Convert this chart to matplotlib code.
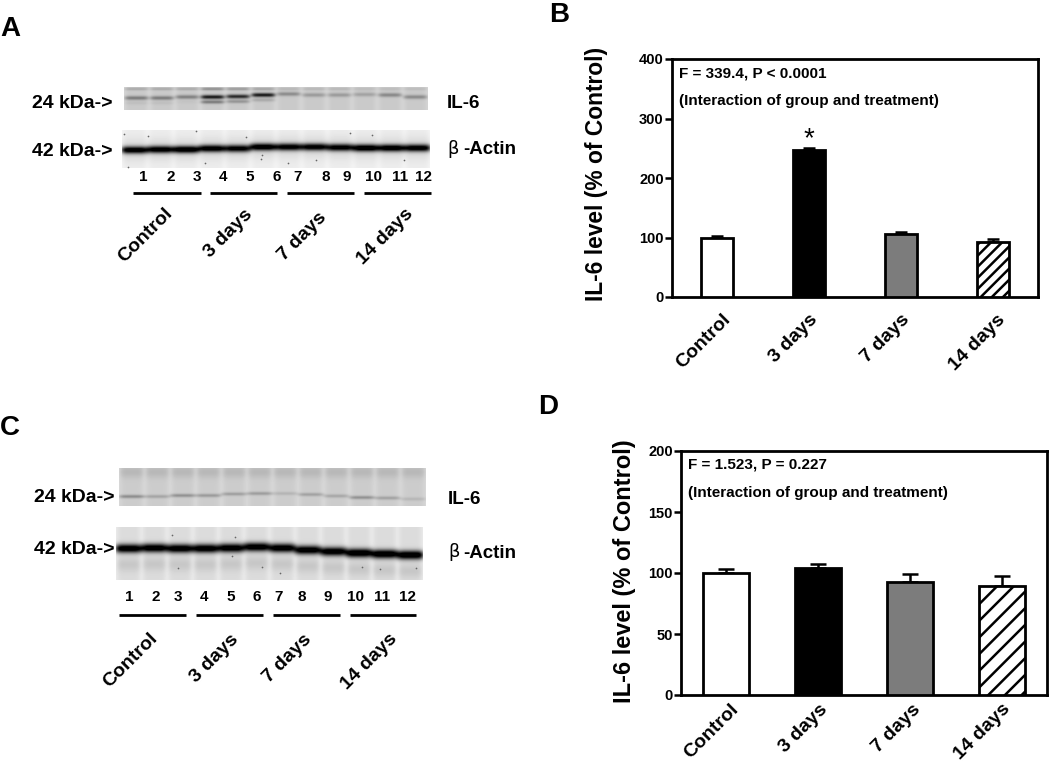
import numpy as np
import matplotlib

matplotlib.use("Agg")
import matplotlib.pyplot as plt
from matplotlib.transforms import ScaledTranslation

W, H = 1050, 762

plt.rcParams["font.family"] = ["Liberation Sans", "DejaVu Sans"]
plt.rcParams["font.weight"] = "bold"
plt.rcParams["hatch.linewidth"] = 1.8

groups = ["Control", "3 days", "7 days", "14 days"]

# bar panels
b_values = [100, 247, 106, 93]
b_errors = [2.5, 4, 4, 4]
b_ticks = [0, 100, 200, 300, 400]
d_values = [100, 104, 92.5, 89.5]
d_errors = [3, 3, 7, 8]
d_ticks = [0, 50, 100, 150, 200]
bar_colors = ["white", "black", "#7c7c7c", "white"]

# blot lanes, darkness of each band and its row in pixels
lane_numbers = [str(i) for i in range(1, 13)]
a_il6_dark = [0.3, 0.3, 0.28, 0.68, 0.62, 0.68, 0.24, 0.18, 0.18, 0.15, 0.25, 0.24]
a_il6_row = [98, 98, 97, 97, 96.5, 95, 94, 95, 95, 94.5, 95, 97]
a_il6_upper = [0.12, 0.12, 0.12, 0.22, 0.18, 0.14, 0.07, 0.07, 0.07, 0.05, 0.05, 0.05]
a_il6_lower = [0.04, 0.04, 0.02, 0.3, 0.2, 0.12, 0, 0, 0, 0, 0, 0]
a_actin_dark = [0.95, 0.95, 1.0, 0.95, 0.9, 0.97, 0.92, 0.92, 0.92, 1.0, 0.97, 0.95]
a_actin_row = [150, 149.5, 149.5, 148.5, 148.5, 147, 147, 147, 147.5, 148, 148, 148]
c_il6_dark = [0.24, 0.15, 0.22, 0.19, 0.17, 0.18, 0.09, 0.16, 0.14, 0.22, 0.16, 0.08]
c_il6_row = [496.5, 496.5, 495.5, 495.5, 494, 493.5, 493.5, 494.5, 496, 497.5, 498, 499]
c_actin_dark = [1.0, 1.0, 1.0, 1.0, 1.0, 1.0, 1.0, 1.0, 1.0, 1.05, 1.05, 1.05]
c_actin_row = [548.5, 548, 548.5, 548.5, 548, 547, 548, 550, 551.5, 553, 554, 555]

# lane number centres and group underlines, in pixels
a_number_x = [143, 171, 197, 223, 250, 277, 298, 326, 347, 374, 400, 424]
c_number_x = [129, 156, 178, 204, 231, 257, 279, 302, 328, 355, 382, 408]
a_rule_x = [(133, 201), (210, 277), (287, 354), (364, 431)]
c_rule_x = [(119, 186), (196, 263), (273, 340), (350, 416)]
a_label_xy = [(146, 235), (228, 234), (302, 237), (385, 237)]
c_label_xy = [(131, 660), (214, 659), (287, 659), (369, 662)]

# sideways nudge of each group label under the bars, in pixels
b_label_shift = [5, 0, 0, 4]
d_label_shift = [4, 1, 2, 0]

# hand-read specks on the actin blots
a_speck_x = [124, 196, 205, 246, 261, 288, 316, 350, 372, 404, 128, 148, 262]
a_speck_y = [134, 131, 163, 137, 159, 163, 160, 133, 135, 160, 167, 136, 155]
c_speck_x = [172, 235, 262, 280, 232, 362, 380, 416, 178]
c_speck_y = [535, 537, 567, 573, 556, 567, 569, 568, 568]


def grid(x0, x1, y0, y1):
    return np.meshgrid(np.arange(x0, x1) + 0.5, np.arange(y0, y1) + 0.5)


def blot(x0, x1, y0, y1, background, lane_shade):
    # flat lanes with light gaps between them
    xx, _ = grid(x0, x1, y0, y1)
    w = (x1 - x0) / 12
    img = np.full(xx.shape, float(background))
    for i in range(12):
        cx = x0 + w * (i + 0.5)
        img -= lane_shade * np.exp(-(np.abs(xx - cx) / (w * 0.44)) ** 6)
    return img, (x0, x1, y1, y0)


def add_band(img, extent, rows, dark, thick, spread=0.5):
    x0, x1, y1, y0 = extent
    xx, yy = grid(x0, x1, y0, y1)
    w = (x1 - x0) / len(rows)
    for i, (r, d) in enumerate(zip(rows, dark)):
        cx = x0 + w * (i + 0.5)
        lane = np.exp(-(np.abs(xx - cx) / (w * spread)) ** 6)
        img -= d * lane * np.exp(-(((yy - r) / thick) ** 2))
    return img


def show(canvas, img, extent):
    canvas.imshow(np.clip(img, 0, 1), cmap="gray", vmin=0, vmax=1, extent=extent,
                  aspect="auto", interpolation="bilinear", zorder=1)


def axes_px(fig, left, right, top, bottom):
    return fig.add_axes([left / W, 1 - bottom / H, (right - left) / W, (bottom - top) / H])


def bar_panel(fig, box, values, errors, ticks, width, cap, pad, hatch, label_xy, label_size, shifts):
    ax = axes_px(fig, *box)
    x = np.arange(len(values))
    ax.bar(x, values, width=width, color=bar_colors, edgecolor="black", linewidth=2,
           hatch=[None, None, None, hatch], zorder=3)
    ax.errorbar(x, values, yerr=[np.zeros(len(errors)), errors], fmt="none", ecolor="black",
                elinewidth=1.8, capsize=cap, capthick=1.8, zorder=2)
    ax.set_xlim(-0.489, 3.489)
    ax.set_ylim(ticks[0], ticks[-1])
    ax.set_yticks(ticks)
    ax.tick_params(axis="y", length=5, width=1.8, labelsize=10.5, pad=1)
    ax.set_xticks(x)
    ax.set_xticklabels(groups, rotation=45, ha="right", rotation_mode="anchor", fontsize=14)
    ax.tick_params(axis="x", length=0, pad=pad)
    for lab, dx in zip(ax.get_xticklabels(), shifts):
        lab.set_transform(lab.get_transform() + ScaledTranslation(dx / 100, 0, fig.dpi_scale_trans))
    for s in ax.spines.values():
        s.set_linewidth(2)
    ax.set_ylabel("IL-6 level (% of Control)", fontsize=label_size, fontweight="bold")
    ax.yaxis.set_label_coords(*label_xy)
    return ax


fig = plt.figure(figsize=(W / 100, H / 100), dpi=100)
canvas = fig.add_axes([0, 0, 1, 1])
canvas.set_xlim(0, W)
canvas.set_ylim(H, 0)
canvas.axis("off")

# panel A blots
img, ext = blot(124, 428, 87, 110, 0.84, 0.05)
img = add_band(img, ext, a_il6_row, a_il6_dark, 2.1, 0.47)
img = add_band(img, ext, [89] * 12, a_il6_upper, 1.5, 0.47)
img = add_band(img, ext, [r + 5 for r in a_il6_row], a_il6_lower, 1.8, 0.47)
show(canvas, img, ext)
img, ext = blot(122, 430, 130, 168, 0.96, 0.03)
img = add_band(img, ext, a_actin_row, a_actin_dark, 3.6, 0.52)
img = add_band(img, ext, a_actin_row, [0.1] * 12, 11, 0.52)
show(canvas, img, ext)
canvas.scatter(a_speck_x, a_speck_y, s=1.5, c="#666666", linewidths=0, zorder=2)

# panel C blots
img, ext = blot(119, 426, 468, 506, 0.85, 0.05)
img = add_band(img, ext, c_il6_row, c_il6_dark, 1.8, 0.5)
img = add_band(img, ext, [472] * 12, [0.08] * 12, 6, 0.47)
show(canvas, img, ext)
img, ext = blot(116, 423, 527, 580, 0.92, 0.06)
img = add_band(img, ext, c_actin_row, c_actin_dark, 4.4, 0.52)
img = add_band(img, ext, [r + 16 for r in c_actin_row], [0.08] * 12, 7, 0.47)
show(canvas, img, ext)
canvas.scatter(c_speck_x, c_speck_y, s=1.5, c="#666666", linewidths=0, zorder=2)

# blot labels
for x, y, s in [(113, 104, "24 kDa->"), (113, 152, "42 kDa->"),
                (114, 498, "24 kDa->"), (114, 550, "42 kDa->")]:
    canvas.text(x, y, s, ha="right", va="center", fontsize=14)
canvas.text(447, 103, "IL-6", va="center", fontsize=13.5)
canvas.text(448, 499, "IL-6", va="center", fontsize=13.5)
canvas.text(447, 149, "β", va="center", fontsize=13, fontweight="normal", family="DejaVu Sans")
canvas.text(463, 150, "-Actin", va="center", fontsize=13.5)
canvas.text(448, 552, "β", va="center", fontsize=13, fontweight="normal", family="DejaVu Sans")
canvas.text(463, 553, "-Actin", va="center", fontsize=13.5)

for numbers_x, y in [(a_number_x, 177), (c_number_x, 597)]:
    for x, s in zip(numbers_x, lane_numbers):
        canvas.text(x, y, s, ha="center", va="center", fontsize=11)
for rules, y in [(a_rule_x, 193), (c_rule_x, 615)]:
    for a, b in rules:
        canvas.plot([a, b], [y, y], color="black", lw=2, solid_capstyle="butt")
for xy_list in (a_label_xy, c_label_xy):
    for (x, y), s in zip(xy_list, groups):
        canvas.text(x, y, s, rotation=45, ha="center", va="center", fontsize=14)

for x, y, s in [(10, 29, "A"), (559, 15, "B"), (10, 428, "C"), (548, 407, "D")]:
    canvas.text(x, y, s, ha="center", va="center", fontsize=20)

# bar panels
ax_b = bar_panel(fig, (672, 1038, 59, 297), b_values, b_errors, b_ticks, 0.35, 4, 10, "///",
                 (-0.175, 0.519), 16.4, b_label_shift)
ax_b.text(0.02, 0.937, "F = 339.4, P < 0.0001", transform=ax_b.transAxes, fontsize=11, va="center")
ax_b.text(0.02, 0.824, "(Interaction of group and treatment)", transform=ax_b.transAxes,
          fontsize=11, va="center")
ax_b.text(1, b_values[1] + b_errors[1] + 15, "*", ha="center", va="center", fontsize=20,
          fontweight="normal")

ax_d = bar_panel(fig, (681, 1047, 451, 695), d_values, d_errors, d_ticks, 0.5, 6, 4, "//",
                 (-0.123, 0.508), 17, d_label_shift)
ax_d.text(0.02, 0.943, "F = 1.523, P = 0.227", transform=ax_d.transAxes, fontsize=11, va="center")
ax_d.text(0.02, 0.828, "(Interaction of group and treatment)", transform=ax_d.transAxes,
          fontsize=11, va="center")

fig.savefig("out.png", dpi=100)
